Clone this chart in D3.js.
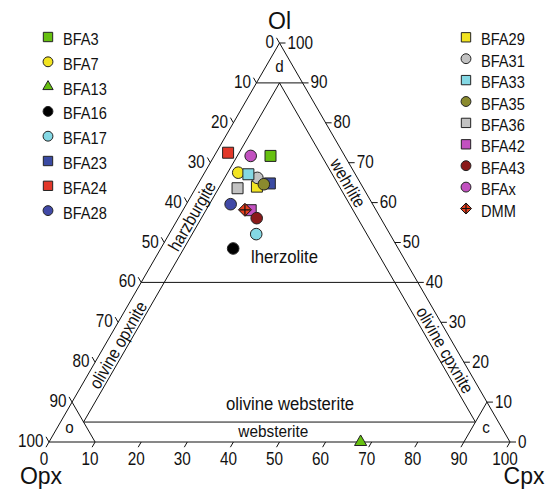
<!DOCTYPE html>
<html>
<head>
<meta charset="utf-8">
<script src="https://cdn.jsdelivr.net/npm/d3@7"></script>
<style>
body { margin: 0; background: #fff; }
text { font-family: Arial, "Liberation Sans", sans-serif; fill: #111; }
</style>
</head>
<body>
<div id="chart"></div>
<script>
// sample names, in drawing order (later ones sit on top)
var samples = ["BFA3", "BFA7", "BFA13", "BFA16", "BFA17", "BFA23", "BFA24", "BFA28",
	"BFA29", "BFA31", "BFA33", "BFA35", "BFA36", "BFA42", "BFA43", "BFAx", "DMM"]

// modal proportions (%)
var olVals  = [71.7, 67.5,  0.0, 48.5, 52.1, 64.8, 72.5, 59.6, 64.0, 66.2, 67.1, 64.6, 63.6, 58.1, 56.1, 71.7, 58.2]
var cpxVals = [12.2,  7.3, 67.6, 15.7, 18.9, 15.5,  2.6,  9.6, 13.1, 12.1,  9.7, 14.3,  9.1, 14.7, 17.0,  7.9, 13.4]
var opxVals = [16.1, 25.2, 32.4, 35.8, 29.0, 19.7, 24.9, 30.8, 22.9, 21.7, 23.2, 21.1, 27.3, 27.2, 26.9, 20.4, 28.4]

var shapes = ["square", "circle", "triangle", "circle", "circle", "square", "square", "circle",
	"square", "circle", "square", "circle", "square", "square", "circle", "circle", "dmm"]
var colors = ["#66c010", "#f2e421", "#66c010", "#000000", "#84d8e4", "#3a4aa2", "#e2382a", "#4149a6",
	"#f2e421", "#c2c2c2", "#84d8e4", "#8a8a2e", "#c2c2c2", "#c251c0", "#8a1a1a", "#c251c0", "#e8401e"]

// axis tick labels
var tickVals = [0, 10, 20, 30, 40, 50, 60, 70, 80, 90, 100]

// field boundaries
var olLines = [90, 40]     // horizontal lines, edge to edge
var websteriteOl = 5
var bandWidth = 5          // harzburgite / wehrlite band
var pyroxeniteLimit = 90   // opxnite / cpxnite corners

var W = 547, H = 492

var svg = d3.select("#chart")
	.append("svg")
	.attr("width", W)
	.attr("height", H)

// ternary frame: x runs on cpx + ol/2, y on ol
var xScale = d3.scaleLinear().domain([0, 100]).range([49, 510])
var yScale = d3.scaleLinear().domain([0, 100]).range([442, 43])

function proj(ol, cpx) {
	return [xScale(cpx + ol / 2), yScale(ol)]
}

function txt(g, x, y, str, size, anchor, rot, sx) {
	return g.append("text")
		.attr("transform", "translate(" + x + "," + y + ") rotate(" + (rot || 0) + ") scale(" + (sx || 1) + ",1)")
		.attr("text-anchor", anchor || "middle")
		.attr("font-size", size)
		.text(str)
}

function seg(g, a, b) {
	g.append("line")
		.attr("x1", a[0]).attr("y1", a[1])
		.attr("x2", b[0]).attr("y2", b[1])
		.attr("stroke", "#111")
		.attr("stroke-width", 1)
}

var frameG = svg.append("g")
var labelG = svg.append("g")
var dotG = svg.append("g")
var legendG = svg.append("g")

// outer triangle
var ptOl = proj(100, 0), ptOpx = proj(0, 0), ptCpx = proj(0, 100)
frameG.append("path")
	.attr("d", "M" + ptOl + "L" + ptOpx + "L" + ptCpx + "Z")
	.attr("fill", "none")
	.attr("stroke", "#111")
	.attr("stroke-width", 1)

// horizontal ol lines
olLines.forEach(function(o) {
	seg(frameG, proj(o, 0), proj(o, 100 - o))
})

// cpx = 5 and opx = 5 lines, meeting at ol = 90
var b = bandWidth, p = pyroxeniteLimit
var innerApex = proj(100 - 2 * b, b)
seg(frameG, innerApex, proj(100 - p - b, b))
seg(frameG, innerApex, proj(100 - p - b, p))
// websterite line
seg(frameG, proj(websteriteOl, b), proj(websteriteOl, p))
// opxnite and cpxnite corners
seg(frameG, proj(100 - p, 0), proj(0, 100 - p))
seg(frameG, proj(100 - p, p), proj(0, p))

// ticks and tick labels
var tl = 6
tickVals.forEach(function(v) {
	// bottom: cpx
	var pb = proj(0, v)
	seg(frameG, pb, [pb[0] - tl * 0.5, pb[1] + tl * 0.866])
	txt(labelG, pb[0] - 5, pb[1] + 23, v, 18, "middle", 0, 0.85)
	// left: opx
	var pl = proj(100 - v, 0)
	seg(frameG, pl, [pl[0] - tl * 0.5, pl[1] - tl * 0.866])
	txt(labelG, pl[0] - 5.5, pl[1] + 5, v, 18, "end", 0, 0.85)
	// right: ol
	var pr = proj(v, 100 - v)
	seg(frameG, pr, [pr[0] + tl, pr[1]])
	txt(labelG, pr[0] + 8, pr[1] + 5.5, v, 18, "start", 0, 0.85)
})

// apex names
txt(labelG, ptOl[0], 29, "Ol", 23, "middle")
txt(labelG, 41, 484, "Opx", 23, "middle")
txt(labelG, 524, 484, "Cpx", 23, "middle")

// field names
txt(labelG, 279.5, 71.5, "d", 16, "middle", 0, 0.95)
txt(labelG, 69.5, 433, "o", 16, "middle", 0, 0.95)
txt(labelG, 486, 433, "c", 16, "middle", 0, 0.95)
txt(labelG, 284.5, 263, "lherzolite", 19, "middle", 0, 0.88)
txt(labelG, 290, 409.5, "olivine websterite", 19, "middle", 0, 0.88)
txt(labelG, 273.3, 436.5, "websterite", 16, "middle", 0, 0.96)
txt(labelG, 192, 216, "harzburgite", 17.5, "middle", -60, 0.88).attr("dy", "0.35em")
txt(labelG, 118, 345, "olivine opxnite", 17.5, "middle", -60, 0.88).attr("dy", "0.35em")
txt(labelG, 348, 183, "wehrlite", 17.5, "middle", 60, 0.88).attr("dy", "0.35em")
txt(labelG, 445, 350, "olivine cpxnite", 17.5, "middle", 60, 0.88).attr("dy", "0.35em")

// marker drawing
function marker(g, shape, color, x, y, big) {
	var k = big ? 1 : 0.85
	if (shape == "dmm") {
		var r = 6.5 * k
		g.append("path")
			.attr("d", "M" + x + "," + (y - r) + "L" + (x + r) + "," + y + "L" + x + "," + (y + r) + "L" + (x - r) + "," + y + "Z")
			.attr("fill", color)
			.attr("stroke", "#111")
			.attr("stroke-width", 1)
		g.append("path")
			.attr("d", "M" + (x - r + 1) + "," + y + "H" + (x + r - 1) + "M" + x + "," + (y - r + 1) + "V" + (y + r - 1))
			.attr("stroke", "#111")
			.attr("stroke-width", 1.2)
		return
	}
	var type = shape == "square" ? d3.symbolSquare : shape == "circle" ? d3.symbolCircle : d3.symbolTriangle
	var size = shape == "square" ? 121 : shape == "circle" ? 106 : 64
	g.append("path")
		.attr("d", d3.symbol().type(type).size(size * k * k)())
		.attr("transform", "translate(" + x + "," + y + ")")
		.attr("fill", color)
		.attr("stroke", "#222")
		.attr("stroke-width", 1)
}

// data points
samples.forEach(function(s, i) {
	var sum = olVals[i] + cpxVals[i] + opxVals[i]
	var pt = proj(olVals[i] * 100 / sum, cpxVals[i] * 100 / sum)
	marker(dotG, shapes[i], colors[i], pt[0], pt[1], true)
})

// legend: first 8 on the left, rest on the right
samples.forEach(function(s, i) {
	var left = i < 8
	var row = left ? i : i - 8
	var mx = left ? 48 : 466
	var my = left ? 37 + row * 24.8 : 37.3 + row * 21.4
	marker(legendG, shapes[i], colors[i], mx, my, false)
	txt(legendG, mx + 15, my + 8, s, 17, "start", 0, 0.86)
})
</script>
</body>
</html>
